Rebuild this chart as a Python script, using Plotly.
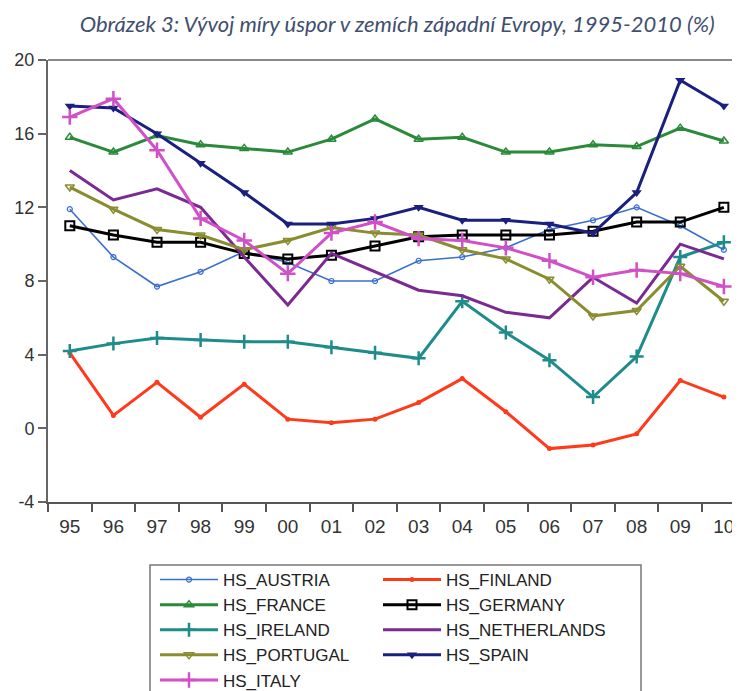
import plotly.graph_objects as go

years = ["95", "96", "97", "98", "99", "00", "01", "02", "03", "04", "05", "06", "07", "08", "09", "10"]
y_tickvals = [-4, 0, 4, 8, 12, 16, 20]
y_ticktext = ["-4", "0", "4", "8", "12", "16", "20"]

hs_austria = [11.9, 9.3, 7.7, 8.5, 9.6, 9.0, 8.0, 8.0, 9.1, 9.3, 9.8, 10.8, 11.3, 12.0, 11.0, 9.7]
hs_finland = [4.1, 0.7, 2.5, 0.6, 2.4, 0.5, 0.3, 0.5, 1.4, 2.7, 0.9, -1.1, -0.9, -0.3, 2.6, 1.7]
hs_france = [15.8, 15.0, 15.9, 15.4, 15.2, 15.0, 15.7, 16.8, 15.7, 15.8, 15.0, 15.0, 15.4, 15.3, 16.3, 15.6]
hs_germany = [11.0, 10.5, 10.1, 10.1, 9.5, 9.2, 9.4, 9.9, 10.4, 10.5, 10.5, 10.5, 10.7, 11.2, 11.2, 12.0]
hs_ireland = [4.2, 4.6, 4.9, 4.8, 4.7, 4.7, 4.4, 4.1, 3.8, 6.9, 5.2, 3.7, 1.7, 3.9, 9.3, 10.1]
hs_netherlands = [14.0, 12.4, 13.0, 12.0, 9.3, 6.7, 9.5, 8.5, 7.5, 7.2, 6.3, 6.0, 8.2, 6.8, 10.0, 9.2]
hs_portugal = [13.1, 11.9, 10.8, 10.5, 9.7, 10.2, 10.9, 10.6, 10.5, 9.7, 9.2, 8.1, 6.1, 6.4, 8.8, 6.9]
hs_spain = [17.5, 17.4, 16.0, 14.4, 12.8, 11.1, 11.1, 11.4, 12.0, 11.3, 11.3, 11.1, 10.6, 12.8, 18.9, 17.5]
hs_italy = [16.9, 17.9, 15.1, 11.4, 10.2, 8.4, 10.6, 11.2, 10.3, 10.2, 9.8, 9.1, 8.2, 8.6, 8.4, 7.7]

series = [
    ("HS_AUSTRIA", hs_austria, "#3a6fd0", 1.6, "circle-open", 5, 1.2, "legend"),
    ("HS_FINLAND", hs_finland, "#ff3a1a", 3, "circle", 5, 0, "legend2"),
    ("HS_FRANCE", hs_france, "#2a8a3a", 3, "triangle-up-open", 8, 1.5, "legend"),
    ("HS_GERMANY", hs_germany, "#000000", 3, "square-open", 9, 2, "legend2"),
    ("HS_IRELAND", hs_ireland, "#1f8c8c", 3, "cross-thin-open", 10, 2.5, "legend"),
    ("HS_NETHERLANDS", hs_netherlands, "#7b2a92", 3, None, 0, 0, "legend2"),
    ("HS_PORTUGAL", hs_portugal, "#8a8c30", 3, "triangle-down-open", 8, 1.5, "legend"),
    ("HS_SPAIN", hs_spain, "#1a1f80", 3, "triangle-down", 9, 0, "legend2"),
    ("HS_ITALY", hs_italy, "#d050c8", 3, "cross-thin-open", 11, 2.5, "legend"),
]

fig = go.Figure()
for name, vals, color, lw, sym, ms, mlw, leg in series:
    kw = dict(x=years, y=vals, name=name, legend=leg,
              line=dict(color=color, width=lw))
    if sym is None:
        kw["mode"] = "lines"
    else:
        kw["mode"] = "lines+markers"
        kw["marker"] = dict(symbol=sym, size=ms, color=color,
                            line=dict(color=color, width=mlw))
    fig.add_trace(go.Scatter(**kw))

legend_common = dict(
    orientation="v", xref="paper", yref="container",
    xanchor="left", yanchor="top", bgcolor="rgba(0,0,0,0)",
    borderwidth=0, itemwidth=58,
    font=dict(family="Liberation Sans, Arial, sans-serif", size=17, color="#222"),
)

# the page body adds an 8px offset; margins compensate so the plot box lands at 48..740 x 60..502
fig.update_layout(
    width=740, height=691,
    margin=dict(l=40, r=8, t=52, b=197, autoexpand=False),
    paper_bgcolor="white", plot_bgcolor="white",
    title=dict(
        text="Obrázek 3: Vývoj míry úspor v zemích západní Evropy, 1995-2010 (%)",
        xref="container", x=0.526, xanchor="center",
        yref="container", y=1 - 16 / 691, yanchor="middle",
        font=dict(family="Lato, Open Sans, sans-serif", size=22, color="#3f4f6f", style="italic"),
    ),
    xaxis=dict(
        type="category", range=[-0.5, 15.37], tickson="boundaries", automargin=False,
        ticks="outside", ticklen=8, tickwidth=2, tickcolor="#555",
        showline=True, linecolor="#555", linewidth=2,
        showgrid=False, zeroline=False, tickangle=0, ticklabelstandoff=6,
        tickfont=dict(family="Liberation Sans, Arial, sans-serif", size=19, color="#333"),
    ),
    yaxis=dict(
        range=[-4, 20], tickmode="array", tickvals=y_tickvals, ticktext=y_ticktext,
        automargin=False,
        ticks="outside", ticklen=8, tickwidth=1.5, tickcolor="#666",
        showline=True, linecolor="#666", linewidth=2,
        showgrid=False, zeroline=False,
        tickfont=dict(family="Liberation Sans, Arial, sans-serif", size=18, color="#333"),
    ),
    legend=dict(x=(155 - 48) / 692, y=1 - 554 / 691, **legend_common),
    legend2=dict(x=(378 - 48) / 692, y=1 - 554 / 691, **legend_common),
    shapes=[
        dict(type="line", xref="paper", yref="paper", x0=0, x1=1, y0=1, y1=1,
             line=dict(color="#888", width=2)),
        dict(type="rect", xref="paper", yref="paper",
             x0=(150 - 48) / 692, x1=(641 - 48) / 692,
             y0=(502 - 565) / 442, y1=(502 - 720) / 442,
             line=dict(color="#777", width=1.5)),
    ],
    showlegend=True,
)

fig.write_html("out.html")
